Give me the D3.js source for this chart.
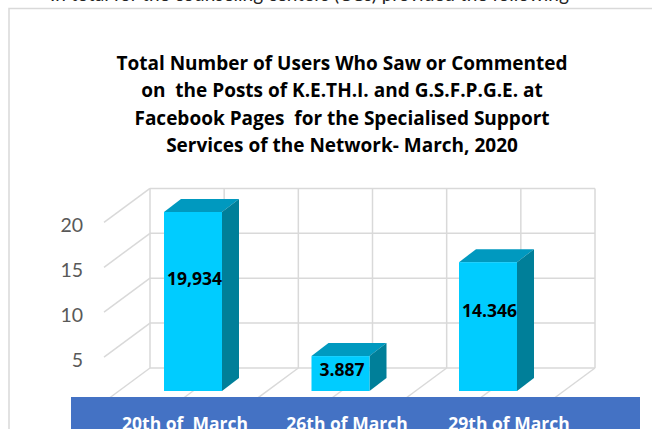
<!DOCTYPE html>
<html>
<head>
<meta charset="utf-8">
<script src="https://cdn.jsdelivr.net/npm/d3@7"></script>
<style>
  body { margin: 0; background: #fff; overflow: hidden; }
  svg { display: block; }
</style>
</head>
<body>
<svg id="chart"></svg>
<script>
// data
var categories = ["20th of  March", "26th of March", "29th of March"];
var values = [19.934, 3.887, 14.346];
var valueLabels = ["19,934", "3.887", "14.346"];
var tickValues = [0, 5, 10, 15, 20];
var titleLines = [
  "Total Number of Users Who Saw or Commented",
  "on  the Posts of K.E.TH.I. and G.S.F.P.G.E. at",
  "Facebook Pages  for the Specialised Support",
  "Services of the Network- March, 2020"
];

var dimensions = {
  width: 652,
  height: 429
}

var svg = d3.select("#chart")
  .attr("width", dimensions.width)
  .attr("height", dimensions.height)

// cut off line of document text above the chart
svg.append("text")
  .text("In total for the counseling centers (CCs) provided the following")
  .attr("x", 50)
  .attr("y", 1)
  .style("font-family", "Lato")
  .style("font-size", "19px")
  .style("fill", "#222")

// chart frame
svg.append("rect")
  .attr("x", 9)
  .attr("y", 8.5)
  .attr("width", 700)
  .attr("height", 500)
  .attr("fill", "#fff")
  .attr("stroke", "#d9d9d9")
  .attr("stroke-width", 1.5)

// title
svg.append("g").selectAll("text")
  .data(titleLines)
  .join("text")
  .text(d => d)
  .attr("x", 342)
  .attr("y", (d, i) => 70 + i * 27.3)
  .attr("text-anchor", "middle")
  .attr("xml:space", "preserve")
  .style("white-space", "pre")
  .style("font-family", "'Open Sans'")
  .style("font-weight", "bold")
  .style("font-size", "19px")
  .style("fill", "#000")

// scales
var yScale = d3.scaleLinear()
  .domain([0, 20])
  .range([391, 391 - 179.6])

var backShift = -23          // back wall sits above the bar base
var depth = { x: -46, y: 34 } // back wall -> front edge of floor / left wall
var barDepth = { x: 17, y: -13 }

var wallX = d3.scaleLinear()
  .domain([0, 6])
  .range([150, 595])

var xScale = d3.scalePoint()
  .domain(categories)
  .range([193, 488])
var barWidth = 58

var labelScale = d3.scaleBand()
  .domain(categories)
  .range([104, 590])

var grid = svg.append("g")
  .attr("stroke", "#d9d9d9")
  .attr("stroke-width", 1.5)
  .attr("fill", "none")

// back wall horizontal lines
grid.selectAll(".hline")
  .data(tickValues)
  .join("line")
  .attr("x1", wallX(0))
  .attr("x2", wallX(6))
  .attr("y1", d => yScale(d) + backShift)
  .attr("y2", d => yScale(d) + backShift)

// back wall vertical lines
grid.selectAll(".vline")
  .data(d3.range(7))
  .join("line")
  .attr("x1", d => wallX(d))
  .attr("x2", d => wallX(d))
  .attr("y1", yScale(20) + backShift)
  .attr("y2", yScale(0) + backShift)

// left wall depth lines
grid.selectAll(".wline")
  .data(tickValues)
  .join("line")
  .attr("x1", wallX(0))
  .attr("y1", d => yScale(d) + backShift)
  .attr("x2", wallX(0) + depth.x)
  .attr("y2", d => yScale(d) + backShift + depth.y)

// floor depth lines
grid.selectAll(".fline")
  .data(d3.range(1, 7))
  .join("line")
  .attr("x1", d => wallX(d))
  .attr("y1", yScale(0) + backShift)
  .attr("x2", d => wallX(d) + depth.x)
  .attr("y2", yScale(0) + backShift + depth.y)

// tick labels
svg.append("g").selectAll("text")
  .data(tickValues)
  .join("text")
  .text(d => d)
  .attr("x", 83)
  .attr("y", d => yScale(d) + backShift + depth.y + 10)
  .attr("text-anchor", "end")
  .style("font-family", "Lato")
  .style("font-size", "19.5px")
  .style("fill", "#595959")

// 3d bars
var bars = svg.append("g").selectAll("g")
  .data(values)
  .join("g")

bars.append("polygon") // top
  .attr("fill", "#0099bf")
  .attr("points", (d, i) => {
    var x0 = xScale(categories[i]) - barWidth / 2, x1 = x0 + barWidth, y = yScale(d)
    return [[x0, y], [x1, y], [x1 + barDepth.x, y + barDepth.y], [x0 + barDepth.x, y + barDepth.y]].join(" ")
  })

bars.append("polygon") // side
  .attr("fill", "#007f99")
  .attr("points", (d, i) => {
    var x1 = xScale(categories[i]) + barWidth / 2, y = yScale(d), y0 = yScale(0)
    return [[x1, y], [x1 + barDepth.x, y + barDepth.y], [x1 + barDepth.x, y0 + barDepth.y], [x1, y0]].join(" ")
  })

bars.append("rect") // front
  .attr("fill", "#00ccff")
  .attr("x", (d, i) => xScale(categories[i]) - barWidth / 2)
  .attr("y", d => yScale(d))
  .attr("width", barWidth)
  .attr("height", d => yScale(0) - yScale(d))

// value labels
svg.append("g").selectAll("text")
  .data(values)
  .join("text")
  .text((d, i) => valueLabels[i])
  .attr("x", (d, i) => xScale(categories[i]) + 1.5)
  .attr("y", d => yScale(d * 0.63) + 7)
  .attr("text-anchor", "middle")
  .style("font-family", "'Open Sans'")
  .style("font-weight", "bold")
  .style("font-size", "17.5px")
  .style("fill", "#000")

// category band
svg.append("rect")
  .attr("x", 71)
  .attr("y", 397)
  .attr("width", 569)
  .attr("height", 40)
  .attr("fill", "#4472c4")

svg.append("g").selectAll("text")
  .data(categories)
  .join("text")
  .text(d => d)
  .attr("x", d => labelScale(d) + labelScale.bandwidth() / 2)
  .attr("y", 429.5)
  .attr("text-anchor", "middle")
  .attr("xml:space", "preserve")
  .style("white-space", "pre")
  .style("font-family", "'Open Sans'")
  .style("font-weight", "bold")
  .style("font-size", "17.5px")
  .style("fill", "#fff")
</script>
</body>
</html>
